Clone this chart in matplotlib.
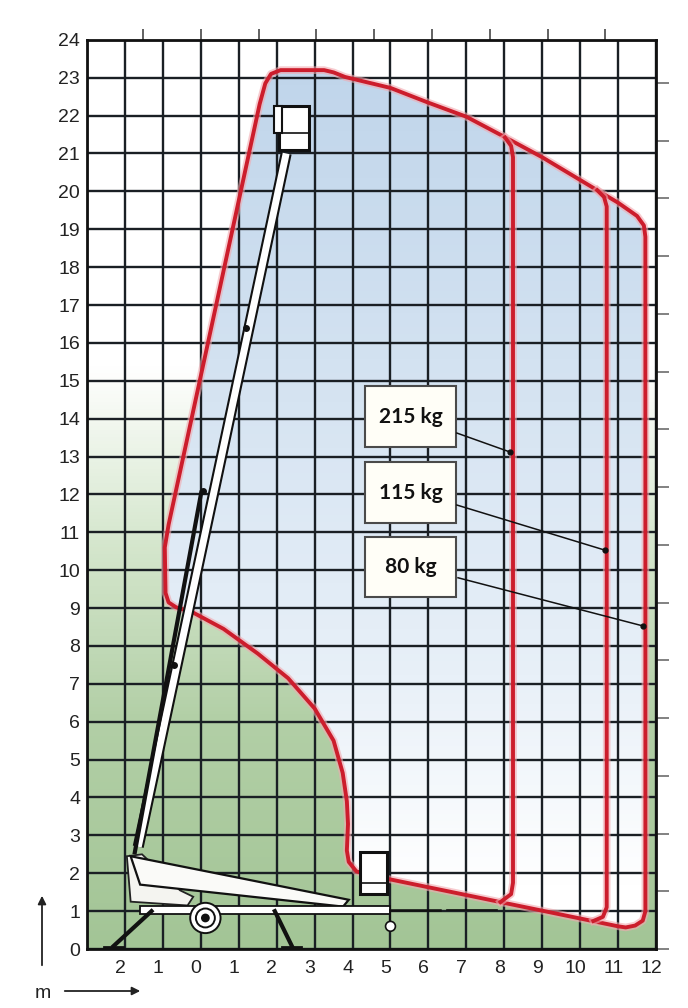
import numpy as np
import matplotlib
matplotlib.use("Agg")
import matplotlib.pyplot as plt
from matplotlib.patches import Polygon, Rectangle, Circle, FancyArrowPatch
from matplotlib.colors import LinearSegmentedColormap

plt.rcParams['font.family'] = ['Liberation Sans', 'DejaVu Sans']

# axis ticks (metres)
x_ticks = list(range(-2, 13))
x_tick_labels = [str(abs(v)) for v in x_ticks]
y_ticks = list(range(0, 25))

# outer working envelope (80 kg)
env_x = [4.45, 4.1, 3.9, 3.85, 3.88, 3.85, 3.74, 3.5, 3.0, 2.3, 1.5, 0.6, -0.2, -0.65,
         -0.85, -0.93, -0.95, -0.85, 1.55, 1.7, 1.85, 2.1, 3.25, 3.5, 3.8, 5.0, 6.0,
         7.0, 8.0, 9.0, 10.0, 11.0, 11.5, 11.68, 11.72, 11.72, 11.65, 11.45, 11.2, 11.0]
env_y = [1.95, 2.05, 2.3, 2.6, 3.3, 3.9, 4.65, 5.5, 6.35, 7.15, 7.8, 8.45, 8.88, 9.02,
         9.15, 9.4, 10.6, 11.2, 22.3, 22.85, 23.1, 23.2, 23.2, 23.14, 23.02, 22.73, 22.34,
         21.97, 21.44, 20.9, 20.3, 19.7, 19.35, 19.1, 18.8, 1.0, 0.75, 0.62, 0.57, 0.6]

# reduced envelopes for heavier loads
env215_x = [8.02, 8.18, 8.23, 8.23, 8.18, 7.9]
env215_y = [21.42, 21.2, 20.9, 1.75, 1.45, 1.24]
env115_x = [10.45, 10.63, 10.7, 10.7, 10.6, 10.35]
env115_y = [20.03, 19.85, 19.6, 1.1, 0.85, 0.74]

# load labels: text, box centre, leader end point
load_labels = ["215 kg", "115 kg", "80 kg"]
label_cx = [5.53, 5.53, 5.53]
label_cy = [14.05, 12.05, 10.08]
leader_x0 = [6.75, 6.75, 6.78]
leader_y0 = [13.62, 11.72, 9.8]
leader_x1 = [8.15, 10.65, 11.65]
leader_y1 = [13.12, 10.53, 8.53]

# machine sketch
boom_up = ([-1.65, 2.25], [2.7, 21.0])
boom_up_base = ([-1.75, 0.02], [2.5, 12.1])
boom_up_joints = ([-0.72, 0.05, 1.2], [7.5, 12.1, 16.4])
basket_up = (2.05, 21.1, 0.8, 1.15)
basket_up_side = (1.93, 21.55, 0.2, 0.7)
boom_down_x = [-1.85, 3.9, 3.75, -1.6]
boom_down_y = [2.45, 1.3, 1.12, 1.7]
turret_x = [-1.95, -1.55, -0.55, -0.2, -0.35, -1.85]
turret_y = [2.45, 2.5, 1.55, 1.38, 1.15, 1.25]
basket_down = (4.2, 1.45, 0.7, 1.1)
chassis = (-1.6, 0.93, 6.6, 0.2)
wheel = (0.12, 0.82)
legs_x = [[-1.3, -2.3], [1.95, 2.4]]
legs_y = [[1.0, 0.08], [1.0, 0.08]]
jockey = (5.0, 0.6)

fig = plt.figure(figsize=(6.88, 10.08), dpi=100)
ax = fig.add_axes([0.1265, 0.0585, 0.827, 0.902])
ax.set_xlim(-3, 12)
ax.set_ylim(0, 24)

# green background fading up
green = LinearSegmentedColormap.from_list(
    "g", [(0, "#a3c596"), (0.25, "#b2cfa6"), (0.45, "#d6e7ce"), (0.64, "#ffffff"), (1, "#ffffff")])
grad = np.linspace(0, 1, 256).reshape(-1, 1)
ax.imshow(grad, cmap=green, origin="lower", extent=[-3, 12, 0, 24], aspect="auto", zorder=0)

# blue fill inside the envelope
blue = LinearSegmentedColormap.from_list(
    "b", [(0, "#ffffff"), (0.07, "#ffffff"), (0.3, "#e8f0f8"), (0.6, "#d6e4f2"), (1, "#bed4ea")])
env = Polygon(np.column_stack([env_x, env_y]), closed=True, facecolor="none", edgecolor="none")
ax.add_patch(env)
im = ax.imshow(grad, cmap=blue, origin="lower", extent=[-3, 12, 0, 24], aspect="auto", zorder=1)
im.set_clip_path(env)

# grid
ax.vlines(np.arange(-3, 13), 0, 24, color="#1a1f24", lw=1.7, zorder=2)
ax.hlines(np.arange(0, 25), -3, 12, color="#1a1f24", lw=1.7, zorder=2)

# envelope lines
ex = env_x + [env_x[0]]
ey = env_y + [env_y[0]]
for xs, ys in [(ex, ey), (env215_x, env215_y), (env115_x, env115_y)]:
    ax.plot(xs, ys, color="#f2a9b0", lw=5.5, alpha=0.6, zorder=3, solid_joinstyle="round")
    ax.plot(xs, ys, color="#cc1d2c", lw=2.8, zorder=3, solid_joinstyle="round")

# machine
mk = dict(zorder=4)
ax.plot(*boom_up, color="#111", lw=8, solid_capstyle="butt", **mk)
ax.plot(*boom_up, color="white", lw=5, solid_capstyle="butt", **mk)
ax.plot(*boom_up_base, color="#111", lw=3, solid_capstyle="butt", **mk)
ax.plot(*boom_up_joints, "o", color="#111", ms=4, **mk)
ax.add_patch(Rectangle(basket_up[:2], basket_up[2], basket_up[3], facecolor="white", edgecolor="#111", lw=2.2, **mk))
ax.add_patch(Rectangle(basket_up_side[:2], basket_up_side[2], basket_up_side[3], facecolor="white", edgecolor="#111", lw=1.5, **mk))
ax.plot([basket_up[0], basket_up[0] + basket_up[2]], [21.55, 21.55], color="#111", lw=1.2, **mk)
ax.add_patch(Polygon(np.column_stack([turret_x, turret_y]), facecolor="#f4f4f0", edgecolor="#222", lw=1.3, **mk))
ax.add_patch(Polygon(np.column_stack([boom_down_x, boom_down_y]), facecolor="#fafaf8", edgecolor="#111", lw=1.6, **mk))
ax.add_patch(Rectangle(basket_down[:2], basket_down[2], basket_down[3], facecolor="white", edgecolor="#111", lw=2.2, **mk))
ax.plot([basket_down[0], basket_down[0] + basket_down[2]], [1.75, 1.75], color="#111", lw=1.2, **mk)
ax.add_patch(Rectangle(chassis[:2], chassis[2], chassis[3], facecolor="white", edgecolor="#111", lw=1.3, **mk))
ax.plot([5.0, 6.3], [1.03, 1.03], color="#111", lw=1.8, **mk)
ax.plot([6.5, 7.8], [1.03, 1.03], color="#111", lw=1.2, **mk)
for lx, ly in zip(legs_x, legs_y):
    ax.plot(lx, ly, color="#111", lw=3, **mk)
    ax.plot([lx[1] - 0.25, lx[1] + 0.25], [0.06, 0.06], color="#111", lw=2, **mk)
for r, fc in [(0.4, "white"), (0.25, "white"), (0.09, "#111")]:
    ax.add_patch(Circle(wheel, r, facecolor=fc, edgecolor="#111", lw=1.4, zorder=5))
ax.plot([jockey[0], jockey[0]], [1.03, 0.6], color="#111", lw=1.3, **mk)
ax.add_patch(Circle(jockey, 0.13, facecolor="white", edgecolor="#111", lw=1.2, zorder=5))

# load labels
for t, cx, cy, x0, y0, x1, y1 in zip(load_labels, label_cx, label_cy,
                                     leader_x0, leader_y0, leader_x1, leader_y1):
    ax.add_patch(Rectangle((cx - 1.21, cy - 0.8), 2.42, 1.6, facecolor="#fffef7",
                           edgecolor="#4a4a4a", lw=1.5, zorder=6))
    ax.text(cx, cy, t, ha="center", va="center", fontsize=15, fontweight="bold",
            family=["Lato", "DejaVu Sans"], color="#111", zorder=7)
    ax.plot([x0, x1], [y0, y1], color="#111", lw=1.1, zorder=6)
    ax.plot([x1], [y1], "o", color="#111", ms=3.5, zorder=6)

# ticks
ax.set_xticks([v - 0.13 for v in x_ticks])
ax.set_xticklabels(x_tick_labels)
ax.set_yticks(y_ticks)
ax.tick_params(axis="both", length=0, labelsize=14, colors="#222")
ax.tick_params(axis="x", pad=8)
ax.tick_params(axis="y", pad=5)
for s in ax.spines.values():
    s.set_linewidth(2)
    s.set_color("#111")

# 5 ft marks on top and right
ft = 0.3048
top = ax.secondary_xaxis("top", functions=(lambda m: m / ft, lambda f: f * ft))
top.set_xticks(np.arange(-5, 45, 5))
top.set_xticklabels([])
top.tick_params(length=8, width=1.3, color="#555", direction="out")
top.spines["top"].set_visible(False)
right = ax.secondary_yaxis("right", functions=(lambda m: m / ft, lambda f: f * ft))
right.set_yticks(np.arange(0, 80, 5))
right.set_yticklabels([])
right.tick_params(length=9, width=1.3, color="#777", direction="out")
right.spines["right"].set_visible(False)

# metre axis marker
fig.text(43 / 688, 1 - 993 / 1008, "m", ha="center", va="center", fontsize=14, color="#222")
fig.add_artist(FancyArrowPatch((42 / 688, 1 - 968 / 1008), (42 / 688, 1 - 893 / 1008),
               transform=fig.transFigure, arrowstyle="-|>", mutation_scale=12, lw=1.3, color="#222"))
fig.add_artist(FancyArrowPatch((62 / 688, 1 - 991 / 1008), (143 / 688, 1 - 991 / 1008),
               transform=fig.transFigure, arrowstyle="-|>", mutation_scale=12, lw=1.3, color="#222"))

fig.savefig("out.png", dpi=100)
